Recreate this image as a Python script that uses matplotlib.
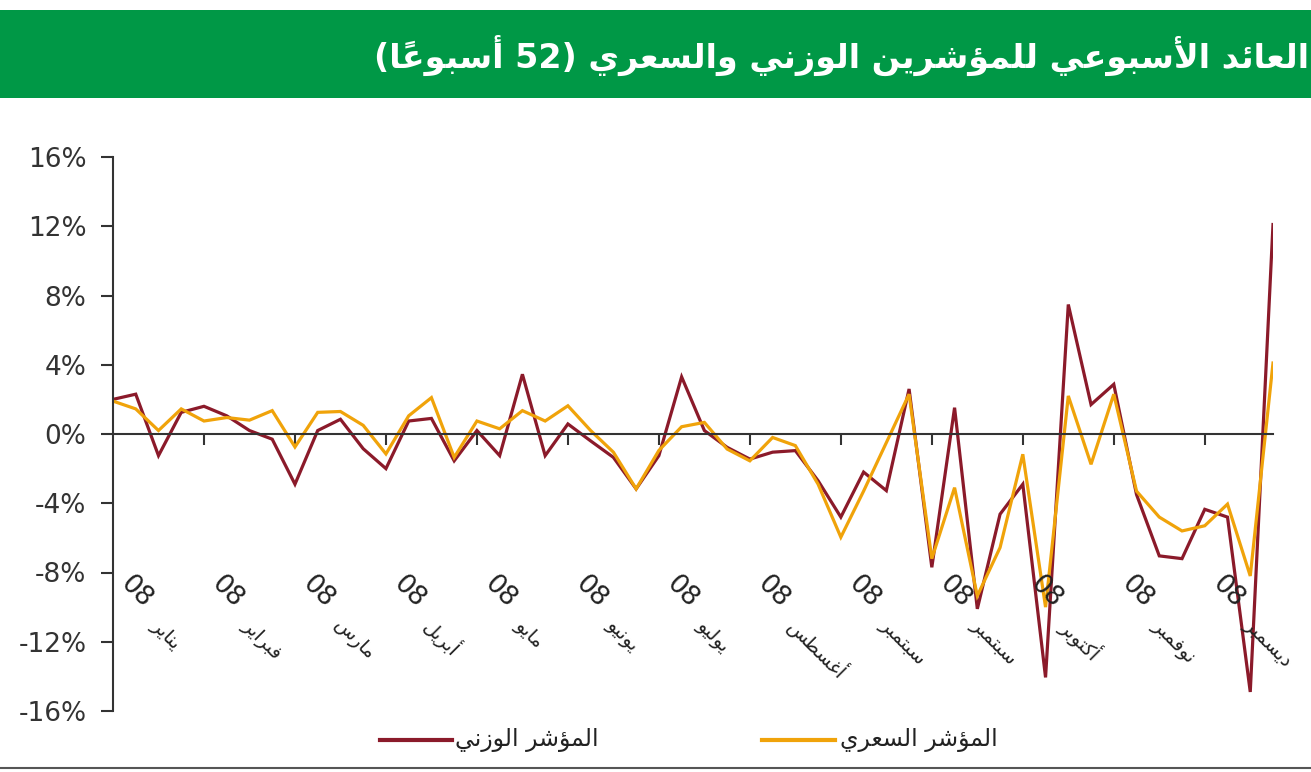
import matplotlib
matplotlib.use("Agg")
import matplotlib.pyplot as plt
from matplotlib.lines import Line2D
from matplotlib.patches import Rectangle

# ---- data (weekly return, %) ----
weighted = [2.0, 2.3, -1.25, 1.25, 1.6, 1.05, 0.2, -0.3, -2.9, 0.2,
            0.85, -0.85, -2.0, 0.75, 0.9, -1.55, 0.2, -1.25, 3.45, -1.25,
            0.58, -0.4, -1.35, -3.17, -1.25, 3.3, 0.2, -0.77, -1.45, -1.05,
            -0.96, -2.7, -4.8, -2.2, -3.27, 2.6, -7.7, 1.52, -10.1, -4.63,
            -2.9, -14.06, 7.48, 1.7, 2.87, -3.5, -7.04, -7.2, -4.35, -4.8,
            -14.9, 12.1]
price = [1.9, 1.45, 0.2, 1.45, 0.75, 0.95, 0.8, 1.35, -0.75, 1.25,
         1.3, 0.5, -1.15, 1.05, 2.1, -1.35, 0.75, 0.3, 1.35, 0.75,
         1.63, 0.2, -1.05, -3.17, -0.95, 0.42, 0.67, -0.87, -1.55, -0.2,
         -0.67, -2.9, -5.96, -3.3, -0.5, 2.3, -7.2, -3.1, -9.35, -6.56,
         -1.17, -10.0, 2.2, -1.75, 2.3, -3.3, -4.8, -5.6, -5.3, -4.05,
         -8.2, 4.1]
months = ["يناير", "فبراير", "مارس", "أبريل", "مايو", "يونيو", "يوليو",
          "أغسطس", "سبتمبر", "سبتمبر", "أكتوبر", "نوفمبر", "ديسمبر"]
year_label = "08"
y_ticks = [-16, -12, -8, -4, 0, 4, 8, 12, 16]
y_tick_labels = ["-16%", "-12%", "-8%", "-4%", "0%", "4%", "8%", "12%", "16%"]
title = "العائد الأسبوعي للمؤشرين الوزني والسعري (52 أسبوعاً)"
name_weighted = "المؤشر الوزني"
name_price = "المؤشر السعري"

# ---- minimal arabic shaping (matplotlib has no RTL support) ----
ISO = {'ء': 0xFE80, 'آ': 0xFE81, 'أ': 0xFE83, 'ؤ': 0xFE85, 'إ': 0xFE87,
       'ئ': 0xFE89, 'ا': 0xFE8D, 'ب': 0xFE8F, 'ة': 0xFE93, 'ت': 0xFE95,
       'ث': 0xFE99, 'ج': 0xFE9D, 'ح': 0xFEA1, 'خ': 0xFEA5, 'د': 0xFEA9,
       'ذ': 0xFEAB, 'ر': 0xFEAD, 'ز': 0xFEAF, 'س': 0xFEB1, 'ش': 0xFEB5,
       'ص': 0xFEB9, 'ض': 0xFEBD, 'ط': 0xFEC1, 'ظ': 0xFEC5, 'ع': 0xFEC9,
       'غ': 0xFECD, 'ف': 0xFED1, 'ق': 0xFED5, 'ك': 0xFED9, 'ل': 0xFEDD,
       'م': 0xFEE1, 'ن': 0xFEE5, 'ه': 0xFEE9, 'و': 0xFEED, 'ى': 0xFEEF,
       'ي': 0xFEF1}
RIGHT_ONLY = set('آأؤإاةدذرزوى')
LAM_ALEF = {'آ': 0xFEF5, 'أ': 0xFEF7, 'إ': 0xFEF9, 'ا': 0xFEFB}


def is_mark(c):
    return len(c) == 1 and 0x064B <= ord(c) <= 0x0652


def ar(text):
    toks = []
    i = 0
    while i < len(text):
        c = text[i]
        if c == 'ل' and i + 1 < len(text) and text[i + 1] in LAM_ALEF:
            toks.append('ل' + text[i + 1])
            i += 2
        else:
            toks.append(c)
            i += 1

    def letter(t):
        return t in ISO or len(t) == 2

    def joins_next(t):
        return t in ISO and t not in RIGHT_ONLY and t != 'ء'

    def joins_prev(t):
        return letter(t) and t != 'ء'

    shaped = []
    for k, t in enumerate(toks):
        if not letter(t):
            shaped.append(t)
            continue
        p = k - 1
        while p >= 0 and is_mark(toks[p]):
            p -= 1
        n = k + 1
        while n < len(toks) and is_mark(toks[n]):
            n += 1
        cp = p >= 0 and joins_next(toks[p]) and joins_prev(t)
        cn = n < len(toks) and joins_next(t) and joins_prev(toks[n])
        if len(t) == 2:
            code = LAM_ALEF[t[1]] + (1 if cp else 0)
        elif t == 'ء':
            code = ISO[t]
        elif t in RIGHT_ONLY:
            code = ISO[t] + (1 if cp else 0)
        else:
            code = ISO[t] + (3 if cp and cn else 1 if cp else 2 if cn else 0)
        shaped.append(chr(code))

    # clusters: base + marks, digit runs kept LTR
    clusters = []
    for s in shaped:
        if clusters and is_mark(s):
            clusters[-1] += s
        elif clusters and s.isdigit() and clusters[-1].isdigit():
            clusters[-1] += s
        else:
            clusters.append(s)
    mirror = {'(': ')', ')': '('}
    return ''.join(mirror.get(c, c) for c in reversed(clusters))


plt.rcParams['font.family'] = ['DejaVu Sans']

fig = plt.figure(figsize=(13.11, 7.72), dpi=100)
W, H = 1311, 772

# green title banner
fig.add_artist(Rectangle((0, 1 - 98 / H), 1, 88 / H, transform=fig.transFigure,
                         facecolor='#009846', edgecolor='none'))
fig.text(1309 / W, 1 - 55 / H, ar(title), color='white', fontsize=24,
         fontweight='bold', ha='right', va='center')

ax = fig.add_axes([113 / W, 61 / H, 1160 / W, 554 / H])
x = list(range(len(weighted)))
ax.plot(x, weighted, color='#8b1a2a', lw=2.3, solid_joinstyle='miter')
ax.plot(x, price, color='#f0a30a', lw=2.3, solid_joinstyle='miter')

ax.set_xlim(0, len(weighted) - 1)
ax.set_ylim(-16, 16)
ax.set_yticks(y_ticks)
ax.set_yticklabels(y_tick_labels)
ax.tick_params(axis='y', direction='out', length=9, width=1.5, color='#333333',
               pad=10, labelsize=19, labelcolor='#333333')
ax.set_xticks(range(4, len(weighted) - 1, 4))
ax.tick_params(axis='x', direction='out', length=8, width=1.5, color='#333333',
               labelbottom=False)

for s in ['top', 'right']:
    ax.spines[s].set_visible(False)
ax.spines['left'].set_color('#333333')
ax.spines['left'].set_linewidth(1.5)
ax.spines['bottom'].set_position(('data', 0))
ax.spines['bottom'].set_color('#333333')
ax.spines['bottom'].set_linewidth(1.5)

# rotated category labels
for k, m in enumerate(months):
    xi = k * 4
    ax.annotate(year_label, xy=(xi, -7.9), xytext=(15, 0), textcoords='offset points',
                rotation=-45, rotation_mode='anchor', ha='left', va='top',
                fontsize=19, color='#222222', annotation_clip=False)
    ax.annotate(ar(m), xy=(xi, -7.9), xytext=(30, -37), textcoords='offset points',
                rotation=-45, rotation_mode='anchor', ha='left', va='center',
                fontsize=14, color='#222222', annotation_clip=False)

# legend
fig.add_artist(Line2D([380 / W, 452 / W], [1 - 740 / H] * 2, color='#8b1a2a', lw=3,
                      transform=fig.transFigure))
fig.text(455 / W, 1 - 740 / H, ar(name_weighted), fontsize=17, ha='left', va='center',
         color='#222222')
fig.add_artist(Line2D([762 / W, 835 / W], [1 - 740 / H] * 2, color='#f0a30a', lw=3,
                      transform=fig.transFigure))
fig.text(840 / W, 1 - 740 / H, ar(name_price), fontsize=17, ha='left', va='center',
         color='#222222')

# bottom rule
fig.add_artist(Line2D([0, 1], [1 - 768 / H] * 2, color='#555555', lw=1.5,
                      transform=fig.transFigure))

fig.savefig('out.png', dpi=100)
